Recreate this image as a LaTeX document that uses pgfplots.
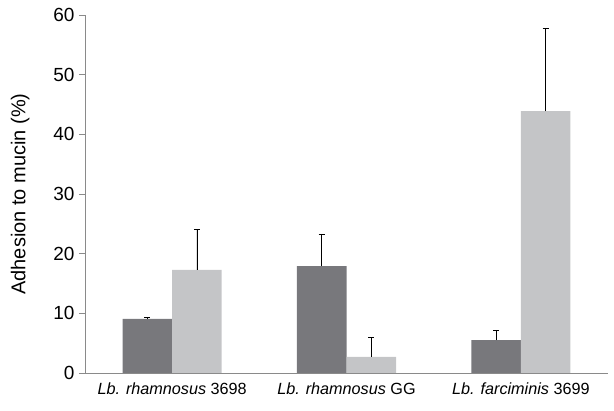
\documentclass[border=0pt]{standalone}
\usepackage{pgfplots}
\pgfplotsset{compat=1.18}
\usepackage{fontspec}
\setmainfont{Liberation Sans}
\definecolor{darkbar}{HTML}{78787C}
\definecolor{lightbar}{HTML}{C4C5C7}
\definecolor{axgray}{HTML}{8A8A8A}
\begin{document}
\begin{tikzpicture}
\begin{axis}[
  scale only axis,
  width=523bp, height=358bp,
  xmin=-0.5, xmax=2.5,
  ymin=0, ymax=60,
  ytick={0,10,...,60},
  axis x line*=bottom,
  axis y line*=left,
  axis line style={axgray, line width=0.8pt},
  tick style={axgray, line width=0.8pt},
  major tick length=6bp,
  tick align=outside,
  xtick={0,1,2},
  xticklabels={{\textit{Lb. rhamnosus} 3698},{\textit{Lb. rhamnosus} GG},{\textit{Lb. farciminis} 3699}},
  x tick style={draw=none},
  extra x ticks={-0.5,0.5,1.5,2.5},
  extra x tick labels={},
  extra x tick style={tick style={axgray, line width=0.8pt}, major tick length=5bp},
  yticklabel style={font=\fontsize{19bp}{22bp}\selectfont, black, xshift=-1bp},
  xticklabel style={font=\fontsize{16.2bp}{19bp}\selectfont, black, yshift=-0.5bp},
  /pgf/number format/assume math mode=true,
  ylabel={Adhesion to mucin (\%)},
  ylabel style={font=\fontsize{20bp}{23bp}\selectfont, at={(-52bp,0.5)}, anchor=south},
  ybar, bar width=0.284,
]
\addplot[ybar, bar shift=-0.142, fill=darkbar, draw=none,
  error bars/.cd, y dir=plus, y explicit, error bar style={black, line width=0.7pt}, error mark options={rotate=90, mark size=3bp, black, line width=0.7pt}]
  coordinates {(0,9.05) +- (0,0.25) (1,17.9) +- (0,5.4) (2,5.5) +- (0,1.6)};
\addplot[ybar, bar shift=0.142, fill=lightbar, draw=none,
  error bars/.cd, y dir=plus, y explicit, error bar style={black, line width=0.7pt}, error mark options={rotate=90, mark size=3bp, black, line width=0.7pt}]
  coordinates {(0,17.3) +- (0,6.7) (1,2.7) +- (0,3.2) (2,43.9) +- (0,13.8)};
\end{axis}
\path ([shift={(-85bp,-38bp)}]current axis.south west) rectangle ([shift={(6bp,15bp)}]current axis.north east);
\end{tikzpicture}
\end{document}
